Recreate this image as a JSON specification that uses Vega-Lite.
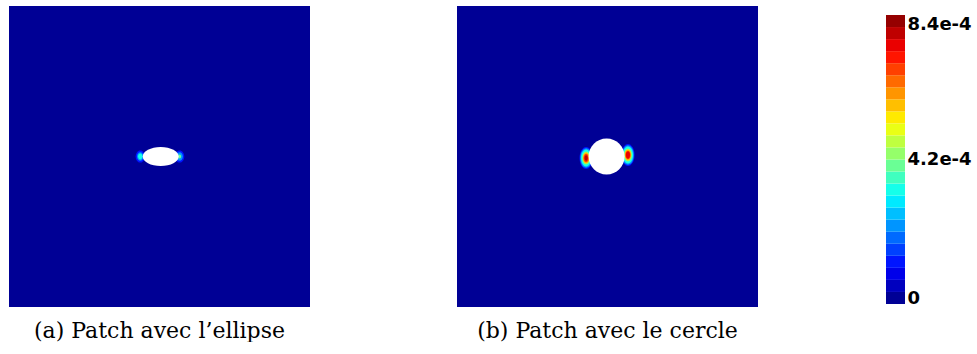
{
  "$schema": "https://vega.github.io/schema/vega-lite/v6.json",
  "background": "white",
  "padding": {"left": 9, "top": 6, "right": 0, "bottom": 0},
  "config": {"view": {"stroke": null}},
  "datasets": {
    "ellipse": [
      {"kind": "plate", "x": 0, "x2": 1, "y": 0, "y2": 1, "v": 0},
      {"kind": "spot", "x": 0.436, "y": 0.5, "v": 0.00012},
      {"kind": "spot", "x": 0.567, "y": 0.5, "v": 0.00012},
      {"kind": "spot", "x": 0.436, "y": 0.5, "v": 0.00023},
      {"kind": "spot", "x": 0.567, "y": 0.5, "v": 0.00023},
      {"kind": "spot", "x": 0.436, "y": 0.5, "v": 0.00034},
      {"kind": "spot", "x": 0.567, "y": 0.5, "v": 0.00039},
      {"kind": "hole", "x": 0.504, "y": 0.5}
    ],
    "circle": [
      {"kind": "plate", "x": 0, "x2": 1, "y": 0, "y2": 1, "v": 0},
      {"kind": "spot", "x": 0.429, "y": 0.495, "v": 0.00013},
      {"kind": "spot", "x": 0.568, "y": 0.505, "v": 0.00013},
      {"kind": "spot", "x": 0.429, "y": 0.495, "v": 0.00023},
      {"kind": "spot", "x": 0.568, "y": 0.505, "v": 0.00023},
      {"kind": "spot", "x": 0.429, "y": 0.495, "v": 0.00033},
      {"kind": "spot", "x": 0.568, "y": 0.505, "v": 0.00033},
      {"kind": "spot", "x": 0.429, "y": 0.495, "v": 0.00045},
      {"kind": "spot", "x": 0.568, "y": 0.505, "v": 0.00045},
      {"kind": "spot", "x": 0.429, "y": 0.495, "v": 0.00058},
      {"kind": "spot", "x": 0.568, "y": 0.505, "v": 0.00058},
      {"kind": "spot", "x": 0.429, "y": 0.495, "v": 0.00068},
      {"kind": "spot", "x": 0.568, "y": 0.505, "v": 0.00068},
      {"kind": "spot", "x": 0.429, "y": 0.495, "v": 0.00079},
      {"kind": "spot", "x": 0.568, "y": 0.505, "v": 0.00075},
      {"kind": "hole", "x": 0.497, "y": 0.5}
    ],
    "colorbar": [
      {"lo": 0, "hi": 0.000035, "v": 0.0000175},
      {"lo": 0.000035, "hi": 0.00007, "v": 0.0000525},
      {"lo": 0.00007, "hi": 0.000105, "v": 0.0000875},
      {"lo": 0.000105, "hi": 0.00014, "v": 0.0001225},
      {"lo": 0.00014, "hi": 0.000175, "v": 0.0001575},
      {"lo": 0.000175, "hi": 0.00021, "v": 0.0001925},
      {"lo": 0.00021, "hi": 0.000245, "v": 0.0002275},
      {"lo": 0.000245, "hi": 0.00028, "v": 0.0002625},
      {"lo": 0.00028, "hi": 0.000315, "v": 0.0002975},
      {"lo": 0.000315, "hi": 0.00035, "v": 0.0003325},
      {"lo": 0.00035, "hi": 0.000385, "v": 0.0003675},
      {"lo": 0.000385, "hi": 0.00042, "v": 0.0004025},
      {"lo": 0.00042, "hi": 0.000455, "v": 0.0004375},
      {"lo": 0.000455, "hi": 0.00049, "v": 0.0004725},
      {"lo": 0.00049, "hi": 0.000525, "v": 0.0005075},
      {"lo": 0.000525, "hi": 0.00056, "v": 0.0005425},
      {"lo": 0.00056, "hi": 0.000595, "v": 0.0005775},
      {"lo": 0.000595, "hi": 0.00063, "v": 0.0006125},
      {"lo": 0.00063, "hi": 0.000665, "v": 0.0006475},
      {"lo": 0.000665, "hi": 0.0007, "v": 0.0006825},
      {"lo": 0.0007, "hi": 0.000735, "v": 0.0007175},
      {"lo": 0.000735, "hi": 0.00077, "v": 0.0007525},
      {"lo": 0.00077, "hi": 0.000805, "v": 0.0007875},
      {"lo": 0.000805, "hi": 0.00084, "v": 0.0008225}
    ]
  },
  "resolve": {"scale": {"size": "independent", "color": "shared"}},
  "spacing": 128,
  "hconcat": [
    {
      "spacing": 147,
      "resolve": {"scale": {"size": "independent", "x": "independent", "y": "independent", "color": "shared"}},
      "hconcat": [
        {
          "width": 301,
          "height": 301,
          "data": {"name": "ellipse"},
          "title": {"text": "(a) Patch avec l’ellipse", "orient": "bottom", "anchor": "middle", "font": "DejaVu Serif", "fontSize": 22, "fontWeight": "normal", "color": "black", "offset": 14},
          "layer": [
            {
              "transform": [{"filter": "datum.kind == 'plate'"}],
              "mark": {"type": "rect", "strokeWidth": 0},
              "encoding": {
                "x": {"field": "x", "type": "quantitative", "scale": {"domain": [0, 1], "nice": false, "zero": false}, "axis": null},
                "x2": {"field": "x2"},
                "y": {"field": "y", "type": "quantitative", "scale": {"domain": [0, 1], "nice": false, "zero": false}, "axis": null},
                "y2": {"field": "y2"},
                "color": {"field": "v", "type": "quantitative", "legend": null,
                  "scale": {"type": "quantize", "domain": [0, 0.00084], "nice": false, "zero": false,
                    "range": ["#000095", "#0000bf", "#0000ea", "#0015ff", "#0040ff", "#006aff", "#0095ff", "#00bfff", "#00eaff", "#15ffea", "#40ffbf", "#6aff95", "#95ff6a", "#bfff40", "#eaff15", "#ffea00", "#ffbf00", "#ff9500", "#ff6a00", "#ff4000", "#ff1500", "#ea0000", "#bf0000", "#950000"]}}
              }
            },
            {
              "transform": [{"filter": "datum.kind == 'spot'"}],
              "mark": {"type": "point", "filled": true, "opacity": 1, "strokeWidth": 0, "shape": "M0,-1A0.75,1 0 1,1 0,1A0.75,1 0 1,1 0,-1Z"},
              "encoding": {
                "x": {"field": "x", "type": "quantitative"},
                "y": {"field": "y", "type": "quantitative"},
                "color": {"field": "v", "type": "quantitative", "legend": null,
                  "scale": {"type": "quantize", "domain": [0, 0.00084], "nice": false, "zero": false,
                    "range": ["#000095", "#0000bf", "#0000ea", "#0015ff", "#0040ff", "#006aff", "#0095ff", "#00bfff", "#00eaff", "#15ffea", "#40ffbf", "#6aff95", "#95ff6a", "#bfff40", "#eaff15", "#ffea00", "#ffbf00", "#ff9500", "#ff6a00", "#ff4000", "#ff1500", "#ea0000", "#bf0000", "#950000"]}},
                "size": {"field": "v", "type": "quantitative", "legend": null, "scale": {"type": "linear", "domain": [0.00012, 0.00023, 0.00036], "range": [150, 72, 26], "zero": false, "nice": false}}
              }
            },
            {
              "transform": [{"filter": "datum.kind == 'hole'"}],
              "mark": {"type": "point", "filled": true, "opacity": 1, "strokeWidth": 0, "color": "white", "size": 1296, "shape": "M-1,0A1,0.53 0 1,1 1,0A1,0.53 0 1,1 -1,0Z"},
              "encoding": {
                "x": {"field": "x", "type": "quantitative"},
                "y": {"field": "y", "type": "quantitative"}
              }
            }
          ]
        },
        {
          "width": 301,
          "height": 301,
          "data": {"name": "circle"},
          "title": {"text": "(b) Patch avec le cercle", "orient": "bottom", "anchor": "middle", "font": "DejaVu Serif", "fontSize": 22, "fontWeight": "normal", "color": "black", "offset": 14},
          "layer": [
            {
              "transform": [{"filter": "datum.kind == 'plate'"}],
              "mark": {"type": "rect", "strokeWidth": 0},
              "encoding": {
                "x": {"field": "x", "type": "quantitative", "scale": {"domain": [0, 1], "nice": false, "zero": false}, "axis": null},
                "x2": {"field": "x2"},
                "y": {"field": "y", "type": "quantitative", "scale": {"domain": [0, 1], "nice": false, "zero": false}, "axis": null},
                "y2": {"field": "y2"},
                "color": {"field": "v", "type": "quantitative", "legend": null,
                  "scale": {"type": "quantize", "domain": [0, 0.00084], "nice": false, "zero": false,
                    "range": ["#000095", "#0000bf", "#0000ea", "#0015ff", "#0040ff", "#006aff", "#0095ff", "#00bfff", "#00eaff", "#15ffea", "#40ffbf", "#6aff95", "#95ff6a", "#bfff40", "#eaff15", "#ffea00", "#ffbf00", "#ff9500", "#ff6a00", "#ff4000", "#ff1500", "#ea0000", "#bf0000", "#950000"]}}
              }
            },
            {
              "transform": [{"filter": "datum.kind == 'spot'"}],
              "mark": {"type": "point", "filled": true, "opacity": 1, "strokeWidth": 0, "shape": "M0,-1A0.6,1 0 1,1 0,1A0.6,1 0 1,1 0,-1Z"},
              "encoding": {
                "x": {"field": "x", "type": "quantitative"},
                "y": {"field": "y", "type": "quantitative"},
                "color": {"field": "v", "type": "quantitative", "legend": null,
                  "scale": {"type": "quantize", "domain": [0, 0.00084], "nice": false, "zero": false,
                    "range": ["#000095", "#0000bf", "#0000ea", "#0015ff", "#0040ff", "#006aff", "#0095ff", "#00bfff", "#00eaff", "#15ffea", "#40ffbf", "#6aff95", "#95ff6a", "#bfff40", "#eaff15", "#ffea00", "#ffbf00", "#ff9500", "#ff6a00", "#ff4000", "#ff1500", "#ea0000", "#bf0000", "#950000"]}},
                "size": {"field": "v", "type": "quantitative", "legend": null, "scale": {"type": "linear", "domain": [0.00013, 0.00045, 0.00079], "range": [484, 169, 30], "zero": false, "nice": false}}
              }
            },
            {
              "transform": [{"filter": "datum.kind == 'hole'"}],
              "mark": {"type": "point", "filled": true, "opacity": 1, "strokeWidth": 0, "color": "white", "size": 1296, "shape": "M-1,0A1,1 0 1,1 1,0A1,1 0 1,1 -1,0Z"},
              "encoding": {
                "x": {"field": "x", "type": "quantitative"},
                "y": {"field": "y", "type": "quantitative"}
              }
            }
          ]
        }
      ]
    },
    {
      "width": 19,
      "height": 301,
      "data": {"name": "colorbar"},
      "mark": {"type": "rect", "strokeWidth": 0},
      "encoding": {
        "x": {"datum": 0, "type": "quantitative", "scale": {"domain": [0, 1], "nice": false, "zero": false}, "axis": null},
        "x2": {"datum": 1},
        "y": {"field": "lo", "type": "quantitative", "scale": {"domain": [-0.00000872, 0.00086616], "nice": false, "zero": false},
          "axis": {"orient": "right", "values": [0, 0.00042, 0.00084], "labelExpr": "datum.value == 0 ? '0' : format(datum.value, '.1e')", "domain": false, "ticks": false, "grid": false, "title": null, "labelPadding": 2, "labelFont": "DejaVu Sans", "labelFontWeight": "bold", "labelFontSize": 18, "labelColor": "black", "labelAlign": "left", "labelOverlap": false, "labelBound": false,
            "labelBaseline": {"condition": [{"test": "datum.value > 0.0008", "value": "top"}, {"test": "datum.value == 0", "value": "alphabetic"}], "value": "middle"}}},
        "y2": {"field": "hi"},
        "color": {"field": "v", "type": "quantitative", "legend": null,
          "scale": {"type": "quantize", "domain": [0, 0.00084], "nice": false, "zero": false,
            "range": ["#000095", "#0000bf", "#0000ea", "#0015ff", "#0040ff", "#006aff", "#0095ff", "#00bfff", "#00eaff", "#15ffea", "#40ffbf", "#6aff95", "#95ff6a", "#bfff40", "#eaff15", "#ffea00", "#ffbf00", "#ff9500", "#ff6a00", "#ff4000", "#ff1500", "#ea0000", "#bf0000", "#950000"]}}
      }
    }
  ]
}
